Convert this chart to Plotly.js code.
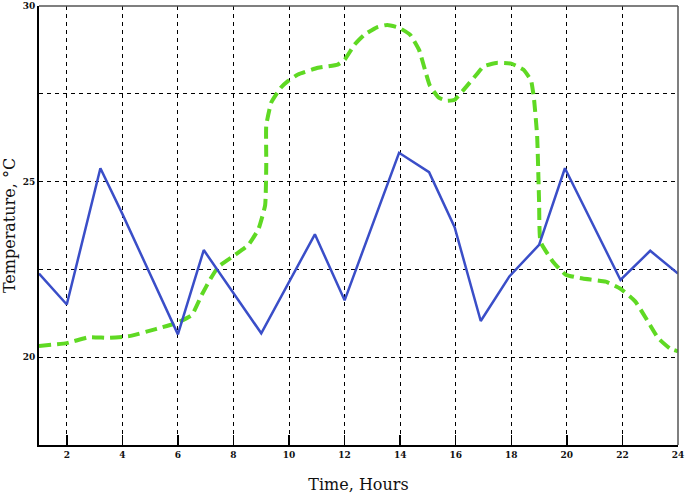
<!DOCTYPE html>
<html>
<head>
<meta charset="utf-8">
<script src="https://cdn.plot.ly/plotly-3.0.1.min.js"></script>
<style>html,body{margin:0;padding:0;background:#fff;}#chart{width:685px;height:498px;}</style>
</head>
<body>
<div id="chart"></div>
<script>
// Blue series (solid)
const blueHours = [1, 2, 3.21, 4.0, 6.0, 6.93, 9.0, 10.93, 12.0, 13.96, 15.04, 15.96, 16.9, 17.93, 19.0, 19.93, 21.93, 23.0, 24.0];
const blueTemps = [22.38, 21.5, 25.38, 24.08, 20.65, 23.05, 20.68, 23.5, 21.62, 25.82, 25.27, 23.7, 21.03, 22.3, 23.2, 25.38, 22.2, 23.03, 22.38];

// Green series (dashed, smooth)
const greenHours = [1, 2, 2.8, 3.5, 4.25, 5.2, 5.9, 6.5, 6.86, 7.18, 7.46, 8.07, 8.54, 8.9, 9.14, 9.18, 9.18, 9.36, 9.71, 9.96, 10.32, 11.04, 11.75, 12.0, 12.36, 12.71, 13.18, 13.54, 13.96, 14.36, 14.68, 14.89, 15.07, 15.39, 15.68, 15.96, 16.29, 16.75, 17.0, 17.46, 18.0, 18.43, 18.71, 18.82, 18.93, 19.0, 19.05, 19.5, 19.96, 20.57, 21.4, 21.93, 22.46, 22.93, 23.29, 23.71, 24.0];
const greenTemps = [20.32, 20.4, 20.57, 20.55, 20.6, 20.8, 20.96, 21.2, 21.78, 22.24, 22.58, 22.92, 23.2, 23.65, 24.33, 25.5, 26.6, 27.25, 27.68, 27.86, 28.05, 28.24, 28.33, 28.47, 28.9, 29.18, 29.4, 29.46, 29.38, 29.18, 28.75, 28.19, 27.73, 27.39, 27.3, 27.33, 27.62, 28.05, 28.28, 28.38, 28.36, 28.19, 27.88, 27.33, 26.3, 24.42, 23.29, 22.72, 22.35, 22.24, 22.15, 21.95, 21.59, 21.0, 20.54, 20.25, 20.17];

const xTicks = [2, 4, 6, 8, 10, 12, 14, 16, 18, 20, 22, 24];
const yTicks = [20, 22.5, 25, 27.5, 30];
const yTickText = ['20', '', '25', '', '30'];

const traces = [
  {x: greenHours, y: greenTemps, mode: 'lines', type: 'scatter',
   line: {color: '#5fd923', width: 4, dash: '12px,6px', shape: 'spline', smoothing: 0.4},
   hoverinfo: 'skip'},
  {x: blueHours, y: blueTemps, mode: 'lines', type: 'scatter',
   line: {color: '#3a4ec8', width: 2.5},
   hoverinfo: 'skip'}
];

const tickFont = {family: 'DejaVu Serif', size: 9, color: '#111', weight: 'bold'};
const layout = {
  width: 685, height: 498,
  margin: {l: 39, r: 7, t: 6, b: 53},
  paper_bgcolor: '#fff', plot_bgcolor: '#fff',
  showlegend: false,
  xaxis: {
    range: [1, 24], tickvals: xTicks, ticks: 'inside', ticklen: 10, tickwidth: 1.5, tickcolor: '#000',
    showgrid: true, gridcolor: '#000', griddash: '4px,4px', gridwidth: 1,
    zeroline: false, showline: true, linecolor: '#000', linewidth: 2,
    tickfont: tickFont, ticklabeloverflow: 'allow',
    title: {text: 'Time, Hours', font: {family: 'DejaVu Serif', size: 16, color: '#111'}, standoff: 20}
  },
  yaxis: {
    range: [17.5, 30], tickvals: yTicks, ticktext: yTickText, ticks: '',
    showgrid: true, gridcolor: '#000', griddash: '4px,4px', gridwidth: 1,
    zeroline: false, showline: true, linecolor: '#000', linewidth: 2,
    tickfont: tickFont, ticklabeloverflow: 'allow',
    title: {text: 'Temperature, °C', font: {family: 'DejaVu Serif', size: 16, color: '#111'}, standoff: 8}
  },
  shapes: [
    {type: 'line', xref: 'paper', yref: 'paper', x0: 0, x1: 1, y0: 1, y1: 1, line: {color: '#555', width: 1.5}, layer: 'above'},
    {type: 'line', xref: 'paper', yref: 'paper', x0: 1, x1: 1, y0: 0, y1: 1, line: {color: '#555', width: 1.5}, layer: 'above'}
  ]
};

Plotly.newPlot('chart', traces, layout, {staticPlot: true, displayModeBar: false});
</script>
</body>
</html>
